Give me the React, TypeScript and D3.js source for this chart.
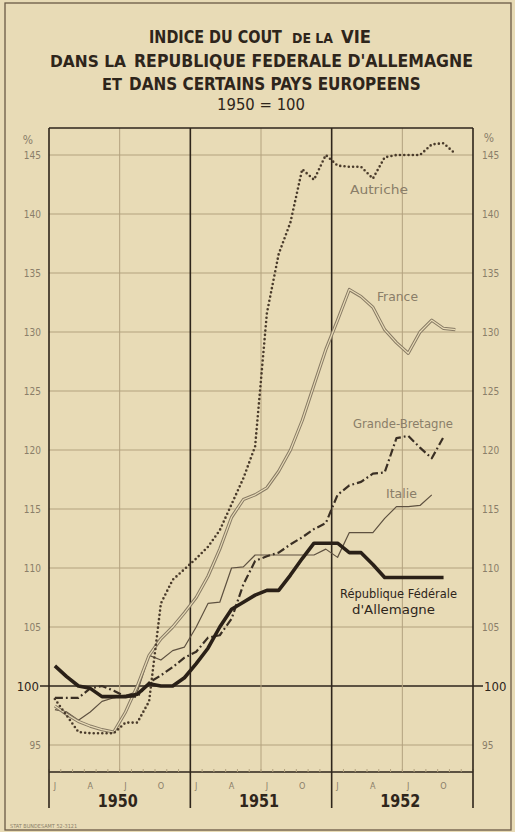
import React, { useLayoutEffect, useRef, useState } from "react";
import * as d3 from "d3";

const YEARS = ["1950", "1951", "1952"];
const MONTH_LABELS = ["J", "A", "J", "O"];
const MONTH_LABEL_IDX = [0, 3, 6, 9];
const Y_TICKS = [95, 100, 105, 110, 115, 120, 125, 130, 135, 140, 145];

// Monthly index values, starting January 1950 (1950 = 100)
const germany = [
  101.7, 100.8, 100.0, 99.8, 99.1, 99.1, 99.1, 99.3, 100.2, 100.0, 100.0, 100.7,
  101.9, 103.2, 105.0, 106.5, 107.1, 107.7, 108.1, 108.1, 109.4, 110.8, 112.1, 112.1,
  112.1, 111.3, 111.3, 110.3, 109.2, 109.2, 109.2, 109.2, 109.2, 109.2,
];
const austria = [
  98.9, 97.5, 96.1, 96.0, 96.0, 96.0, 96.9, 96.9, 98.7, 107.0, 109.0, 109.9,
  110.8, 111.8, 113.2, 115.4, 117.6, 120.3, 131.6, 136.6, 139.3, 143.8, 142.9, 145.0,
  144.1, 144.0, 144.0, 143.0, 144.8, 145.0, 145.0, 145.0, 145.9, 146.0, 145.1,
];
const france = [
  98.3, 97.6, 97.0, 96.6, 96.3, 96.1, 97.8, 100.0, 102.6, 104.0, 105.0, 106.2,
  107.5, 109.3, 111.6, 114.3, 115.8, 116.2, 116.8, 118.2, 120.0, 122.5, 125.5, 128.5,
  131.0, 133.6, 133.0, 132.1, 130.2, 129.1, 128.2, 130.0, 131.0, 130.3, 130.2,
];
const greatBritain = [
  99.0, 99.0, 99.0, 99.8, 100.0, 99.6, 99.1, 99.1, 100.3, 100.9, 101.6, 102.4,
  102.9, 104.1, 104.3, 105.7, 108.6, 110.6, 111.0, 111.3, 112.0, 112.6, 113.3, 113.8,
  116.2, 117.0, 117.3, 118.0, 118.1, 121.0, 121.2, 120.2, 119.3, 121.1,
];
const italy = [
  98.0, 97.8, 97.1, 97.8, 98.7, 99.0, 99.2, 99.5, 102.6, 102.2, 103.0, 103.3,
  105.0, 107.0, 107.1, 110.0, 110.1, 111.1, 111.1, 111.1, 111.1, 111.1, 111.1, 111.6,
  110.9, 113.0, 113.0, 113.0, 114.2, 115.2, 115.2, 115.3, 116.2,
];

const PAPER = "#e8dbb6";
const INK = "#2e251b";
const GREY_TEXT = "#8a7e69";
const GRID = "#b3a27f";
const FONT = "'DejaVu Sans Condensed', 'DejaVu Sans', sans-serif";

// Text horizontally scaled (via transform) to a target width, so its box matches what is drawn
function FitText(props: {
  x: number;
  y: number;
  width: number;
  size: number;
  bold?: boolean;
  fill?: string;
  children: string;
}) {
  const ref = useRef<SVGTextElement>(null);
  const [s, setS] = useState(1);
  useLayoutEffect(() => {
    if (ref.current) {
      const w = ref.current.getComputedTextLength();
      if (w > 0) setS(props.width / w);
    }
  }, [props.width, props.children]);
  return (
    <g transform={`translate(${props.x},${props.y}) scale(${s},1)`}>
      <text
        ref={ref}
        x={0}
        y={0}
        fontSize={props.size}
        fontWeight={props.bold ? "bold" : "normal"}
        fill={props.fill ?? INK}
      >
        {props.children}
      </text>
    </g>
  );
}

export default function App() {
  const W = 515;
  const H = 832;
  const x = d3.scaleLinear().domain([0, 36]).range([49, 473]);
  const y = d3.scaleLinear().domain([95, 145]).range([745, 155]);
  const top = 128;
  const axisY = 772;
  const yearBottom = 808;

  const line = d3
    .line<number>()
    .x((_, i) => x(i + 0.5))
    .y((d) => y(d))
    .curve(d3.curveLinear);

  return (
    <svg
      width={W}
      height={H}
      viewBox={`0 0 ${W} ${H}`}
      style={{ position: "absolute", left: 0, top: 0, display: "block" }}
      fontFamily={FONT}
    >
      <rect x={0} y={0} width={W} height={H} fill={PAPER} />
      <rect x={5} y={3} width={506} height={827} fill="none" stroke="#6a5a45" strokeWidth={1.3} />

      {/* Title */}
      <FitText x={149} y={43} width={133} size={18} bold>INDICE DU COUT</FitText>
      <FitText x={292} y={43} width={41} size={14.5} bold>DE LA</FitText>
      <FitText x={341} y={43} width={30} size={18} bold>VIE</FitText>
      <FitText x={50} y={67} width={76} size={15.5} bold>DANS LA</FitText>
      <FitText x={134} y={67} width={339} size={18} bold>REPUBLIQUE FEDERALE D'ALLEMAGNE</FitText>
      <FitText x={102} y={90} width={20} size={15} bold>ET</FitText>
      <FitText x={129} y={90} width={292} size={18} bold>DANS CERTAINS PAYS EUROPEENS</FitText>
      <FitText x={217} y={110} width={88} size={15}>1950 = 100</FitText>

      {/* Horizontal grid */}
      {Y_TICKS.map((t) => (
        <line
          key={`h${t}`}
          x1={t === 100 ? 40 : x(0)}
          x2={t === 100 ? 483 : x(36)}
          y1={y(t)}
          y2={y(t)}
          stroke={t === 100 ? INK : GRID}
          strokeWidth={t === 100 ? 1.5 : 1}
        />
      ))}

      {/* Mid-year light verticals */}
      {[6, 18, 30].map((m) => (
        <line key={`mv${m}`} x1={x(m)} x2={x(m)} y1={top} y2={axisY} stroke={GRID} strokeWidth={1} />
      ))}

      {/* Top frame & bottom axis */}
      <line x1={x(0)} x2={x(36)} y1={top} y2={top} stroke={INK} strokeWidth={1.4} />
      <line x1={x(0)} x2={x(36)} y1={axisY} y2={axisY} stroke={INK} strokeWidth={1.4} />
      {d3.range(37).map((m) => (
        <line key={`tk${m}`} x1={x(m)} x2={x(m)} y1={axisY - 3} y2={axisY} stroke={GRID} strokeWidth={1} />
      ))}

      {/* Year verticals */}
      {[0, 12, 24, 36].map((m) => (
        <line key={`yv${m}`} x1={x(m)} x2={x(m)} y1={top} y2={yearBottom} stroke={INK} strokeWidth={1.6} />
      ))}

      {/* Y tick labels */}
      <g fill={GREY_TEXT} fontSize={10}>
        <text x={28} y={144} textAnchor="middle" fontSize={12}>%</text>
        <text x={489} y={142} textAnchor="middle" fontSize={12}>%</text>
        {Y_TICKS.filter((t) => t !== 100).map((t) => (
          <g key={`yl${t}`}>
            <text x={41} y={y(t) + 3.5} textAnchor="end">{t}</text>
            <text x={482} y={y(t) + 3.5} textAnchor="start">{t}</text>
          </g>
        ))}
      </g>
      <g fill={INK} fontSize={13}>
        <text x={39} y={y(100) + 4.5} textAnchor="end">100</text>
        <text x={484} y={y(100) + 4.5} textAnchor="start">100</text>
      </g>

      {/* Month and year labels */}
      <g fill={GREY_TEXT} fontSize={9} textAnchor="middle">
        {YEARS.map((yr, yi) =>
          MONTH_LABEL_IDX.map((mi, k) => (
            <text key={`ml${yr}${k}`} x={x(yi * 12 + mi + 0.5)} y={789}>
              {MONTH_LABELS[k]}
            </text>
          ))
        )}
      </g>
      <g fill={INK} fontSize={18} fontWeight="bold" textAnchor="middle">
        {YEARS.map((yr, yi) => (
          <text key={`yr${yr}`} x={x(yi * 12 + 6) - 2} y={807} textLength={40} lengthAdjust="spacingAndGlyphs">
            {yr}
          </text>
        ))}
      </g>
      <text x={10} y={828} fontSize={5.5} fill={GREY_TEXT}>STAT BUNDESAMT 52-3121</text>

      {/* Series */}
      <path d={line(italy) ?? ""} fill="none" stroke="#5e5140" strokeWidth={1.2} strokeLinejoin="round" />
      <path d={line(france) ?? ""} fill="none" stroke="#877a64" strokeWidth={3.2} strokeLinejoin="round" />
      <path d={line(france) ?? ""} fill="none" stroke={PAPER} strokeWidth={1.2} strokeLinejoin="round" />
      <path
        d={line(greatBritain) ?? ""}
        fill="none"
        stroke="#3a2f24"
        strokeWidth={2.2}
        strokeDasharray="8 3 1.8 3"
        strokeLinejoin="round"
      />
      <path
        d={line(austria) ?? ""}
        fill="none"
        stroke="#4a3b2b"
        strokeWidth={2.6}
        strokeDasharray="0 4.3"
        strokeLinecap="round"
      />
      <path d={line(germany) ?? ""} fill="none" stroke="#2a2017" strokeWidth={3.6} strokeLinejoin="round" />

      {/* Series labels */}
      <g fill={GREY_TEXT} fontSize={11.5}>
        <text x={350} y={194} textLength={58} lengthAdjust="spacingAndGlyphs">Autriche</text>
        <text x={377} y={301} textLength={41} lengthAdjust="spacingAndGlyphs">France</text>
        <text x={353} y={428} textLength={100} lengthAdjust="spacingAndGlyphs">Grande-Bretagne</text>
        <text x={386} y={498} textLength={31} lengthAdjust="spacingAndGlyphs">Italie</text>
      </g>
      <g fill={INK} fontSize={13}>
        <text x={340} y={598} textLength={117} lengthAdjust="spacingAndGlyphs">République Fédérale</text>
        <text x={352} y={614} textLength={83} lengthAdjust="spacingAndGlyphs">d'Allemagne</text>
      </g>
    </svg>
  );
}
